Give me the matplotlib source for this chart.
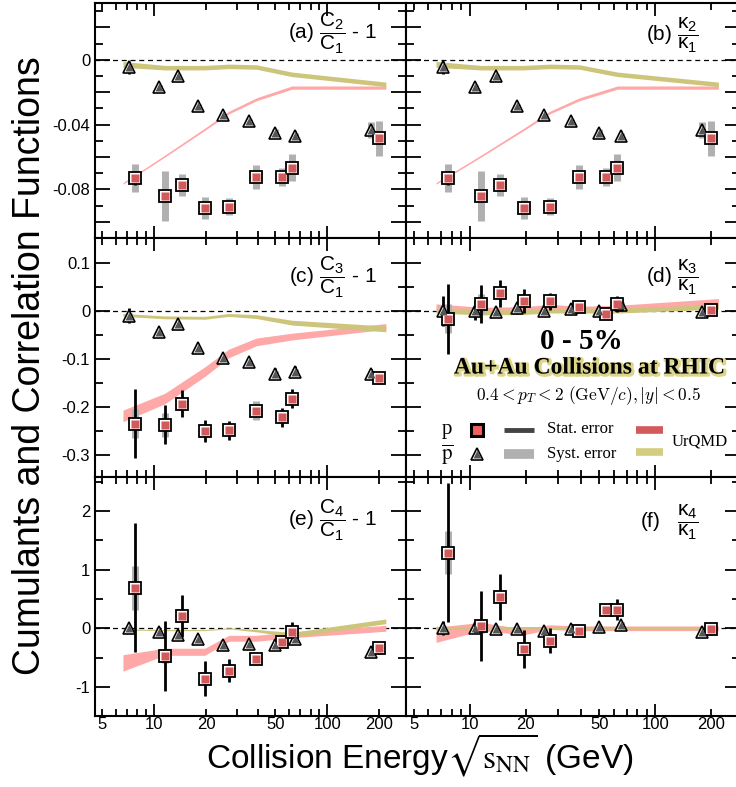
import matplotlib
matplotlib.use('Agg')
import matplotlib.pyplot as plt
import matplotlib.patheffects as pe
from matplotlib.ticker import FixedLocator, FuncFormatter, MultipleLocator
import numpy as np

plt.rcParams['font.family'] = ['Liberation Sans', 'DejaVu Sans']
plt.rcParams['mathtext.fontset'] = 'custom'
plt.rcParams['mathtext.rm'] = 'Liberation Sans'
plt.rcParams['mathtext.it'] = 'Liberation Sans'
plt.rcParams['mathtext.bf'] = 'Liberation Sans:bold'

######## data ########
e_p = [7.7, 11.5, 14.5, 19.6, 27, 39, 54.4, 62.4, 200]
e_pbar = [7.2, 10.7, 13.8, 18.0, 25, 35.2, 50, 65, 178]
e_model = [6.6, 11.5, 19.6, 27, 39, 62.4, 218]

# (a)/(b)  C2/C1 - 1 , k2/k1
p_a = [-0.073, -0.0843, -0.0773, -0.0915, -0.0906, -0.0722, -0.0726, -0.0665, -0.0486]
p_a_stat = [0.004, 0.002, 0.002, 0.002, 0.002, 0.002, 0.002, 0.002, 0.003]
p_a_sys = [0.0085, 0.0155, 0.007, 0.0065, 0.005, 0.0075, 0.0055, 0.0085, 0.0105]
pbar_a = [-0.0045, -0.0166, -0.0098, -0.0285, -0.0343, -0.0377, -0.045, -0.047, -0.0435]
pbar_a_stat = [0.004, 0.001, 0.001, 0.001, 0.001, 0.001, 0.002, 0.003, 0.003]
pbar_a_sys = [0.002, 0.001, 0.001, 0.001, 0.001, 0.001, 0.002, 0.002, 0.005]
red_a = [-0.0763, -0.0595, -0.0429, -0.0326, -0.0244, -0.0172, -0.0172]
red_a_w = [0.0005, 0.0006, 0.0007, 0.0008, 0.0009, 0.001, 0.001]
yel_a = [-0.0029, -0.0049, -0.0049, -0.0041, -0.0045, -0.009, -0.0152]
yel_a_w = [0.0018, 0.0014, 0.0014, 0.0014, 0.0014, 0.0014, 0.0014]

# (c) C3/C1 - 1
p_c = [-0.235, -0.237, -0.194, -0.251, -0.249, -0.208, -0.222, -0.183, -0.141]
p_c_stat = [0.071, 0.040, 0.028, 0.023, 0.020, 0.010, 0.020, 0.020, 0.010]
p_c_sys = [0.03, 0.025, 0.012, 0.012, 0.01, 0.02, 0.012, 0.01, 0.012]
pbar_c = [-0.0104, -0.044, -0.028, -0.078, -0.099, -0.106, -0.131, -0.127, -0.131]
pbar_c_stat = [0.015, 0.008, 0.004, 0.004, 0.003, 0.003, 0.012, 0.012, 0.01]
pbar_c_sys = [0.005, 0.004, 0.003, 0.003, 0.003, 0.003, 0.006, 0.006, 0.006]
red_c = [-0.219, -0.183, -0.127, -0.089, -0.065, -0.054, -0.033]
red_c_w = [0.012, 0.011, 0.010, 0.009, 0.008, 0.007, 0.006]
yel_c = [-0.009, -0.014, -0.015, -0.009, -0.0125, -0.025, -0.038]
yel_c_w = [0.003, 0.003, 0.003, 0.003, 0.004, 0.005, 0.006]

# (d) k3/k1
p_d = [-0.017, 0.014, 0.036, 0.020, 0.019, 0.007, -0.008, 0.014, 0.001]
p_d_stat = [0.073, 0.040, 0.028, 0.025, 0.017, 0.008, 0.008, 0.016, 0.010]
p_d_sys = [0.03, 0.02, 0.01, 0.01, 0.008, 0.01, 0.008, 0.008, 0.012]
pbar_d = [0.0, 0.0, -0.002, 0.005, -0.001, 0.004, -0.001, 0.012, -0.002]
pbar_d_stat = [0.031, 0.02, 0.01, 0.012, 0.008, 0.005, 0.006, 0.012, 0.008]
pbar_d_sys = [0.01, 0.008, 0.005, 0.005, 0.004, 0.004, 0.004, 0.006, 0.006]
red_d = [0.008, 0.002, 0.003, 0.008, 0.004, 0.006, 0.018]
red_d_w = [0.006, 0.005, 0.005, 0.005, 0.005, 0.005, 0.007]
yel_d = [0.0, -0.004, -0.003, 0.0, 0.0, 0.0, 0.008]
yel_d_w = [0.005, 0.005, 0.005, 0.005, 0.005, 0.005, 0.005]

# (e) C4/C1 - 1
p_e = [0.69, -0.47, 0.21, -0.86, -0.72, -0.52, -0.24, -0.06, -0.34]
p_e_stat = [1.10, 0.60, 0.35, 0.30, 0.20, 0.08, 0.08, 0.17, 0.10]
p_e_sys = [0.38, 0.12, 0.10, 0.06, 0.05, 0.05, 0.05, 0.05, 0.08]
pbar_e = [0.0, -0.07, -0.11, -0.18, -0.29, -0.27, -0.29, -0.18, -0.40]
pbar_e_stat = [0.03, 0.03, 0.03, 0.03, 0.03, 0.03, 0.06, 0.06, 0.06]
pbar_e_sys = [0.02, 0.02, 0.02, 0.02, 0.02, 0.02, 0.04, 0.04, 0.05]
red_e = [-0.59, -0.40, -0.40, -0.17, -0.17, -0.11, 0.0]
red_e_w = [0.14, 0.06, 0.06, 0.05, 0.05, 0.05, 0.05]
yel_e = [-0.02, -0.03, -0.03, 0.0, -0.04, -0.11, 0.12]
yel_e_w = [0.01, 0.01, 0.01, 0.01, 0.02, 0.04, 0.04]

# (f) k4/k1
p_f = [1.29, 0.04, 0.54, -0.35, -0.21, -0.05, 0.31, 0.32, -0.01]
p_f_stat = [1.19, 0.59, 0.39, 0.32, 0.21, 0.08, 0.07, 0.18, 0.10]
p_f_sys = [0.37, 0.12, 0.10, 0.06, 0.05, 0.05, 0.05, 0.05, 0.08]
pbar_f = [0.0, 0.01, -0.02, -0.01, -0.05, -0.01, 0.02, 0.06, -0.06]
pbar_f_stat = [0.12, 0.05, 0.03, 0.03, 0.03, 0.03, 0.03, 0.06, 0.06]
pbar_f_sys = [0.04, 0.03, 0.02, 0.02, 0.02, 0.02, 0.02, 0.04, 0.05]
red_f = [-0.11, 0.03, -0.06, 0.02, 0.0, 0.0, 0.0]
red_f_w = [0.13, 0.07, 0.05, 0.04, 0.04, 0.04, 0.04]
yel_f = [0.0, 0.0, 0.0, 0.0, 0.0, 0.0, 0.0]
yel_f_w = [0.03, 0.03, 0.03, 0.03, 0.03, 0.03, 0.03]

ylim_rows = [(-0.110, 0.035), (-0.346, 0.151), (-1.494, 2.578)]
ymajor_rows = [0.02, 0.1, 1.0]
yminor_rows = [0.01, 0.05, 0.5]
ylabels_rows = [[0, -0.04, -0.08], [0.1, 0, -0.1, -0.2, -0.3], [2, 1, 0, -1]]

RED = '#d25a5a'
BAND_RED = '#ffa8a8'
BAND_YEL = '#cdc57c'
SYS = '#b0b0b0'

######## layout in pixels ########
W, H = 736, 787
cols = [(95, 311), (406, 334)]
rows = [(3, 235), (238, 239), (477, 239)]

fig = plt.figure(figsize=(W / 100, H / 100), dpi=100)


def make_ax(r, c):
    x0, w = cols[c]
    y0, h = rows[r]
    return fig.add_axes([x0 / W, 1 - (y0 + h) / H, w / W, h / H])


def draw_points(ax, x, y, stat, sys, kind):
    x = np.array(x); y = np.array(y)
    stat = np.array(stat); sys = np.array(sys)
    ax.vlines(x, y - sys, y + sys, color=SYS, lw=5, zorder=3)
    ax.vlines(x, y - stat, y + stat, color='k', lw=2, zorder=4)
    if kind == 'p':
        ax.plot(x, y, 's', ms=8.5, mfc='white', mec='k', mew=1.3, zorder=5)
        ax.plot(x, y, 's', ms=5.5, mfc=RED, mec='none', zorder=6)
    else:
        ax.plot(x, y, '^', ms=9, mfc='white', mec='k', mew=1.2, zorder=5)
        ax.plot(x, y, '^', ms=5.5, mfc='#555555', mec='none', zorder=6)


def draw_band(ax, y, w, color, z):
    y = np.array(y); w = np.array(w)
    ax.fill_between(e_model, y - w, y + w, color=color, lw=0, zorder=z)


def fmt_y(labs):
    def f(v, p):
        for l in labs:
            if abs(v - l) < 1e-9:
                return '%g' % l
        return ''
    return FuncFormatter(f)


def style(ax, r, c):
    ax.set_xscale('log')
    ax.set_xlim(4.55, 285)
    ax.set_ylim(*ylim_rows[r])
    ax.xaxis.set_major_locator(FixedLocator([10, 100]))
    ax.xaxis.set_minor_locator(FixedLocator([5, 6, 7, 8, 9, 20, 30, 40, 50, 60, 70, 80, 90, 200]))
    ax.yaxis.set_major_locator(MultipleLocator(ymajor_rows[r]))
    ax.yaxis.set_minor_locator(MultipleLocator(yminor_rows[r]))
    ax.yaxis.set_major_formatter(fmt_y(ylabels_rows[r]))
    if r == 2:
        ax.xaxis.set_major_formatter(FuncFormatter(lambda v, p: '%g' % v))
        ax.xaxis.set_minor_formatter(FuncFormatter(
            lambda v, p: ('%g' % v) if round(v) in (5, 20, 50, 200) else ''))
    else:
        ax.xaxis.set_major_formatter(FuncFormatter(lambda v, p: ''))
        ax.xaxis.set_minor_formatter(FuncFormatter(lambda v, p: ''))
    ax.tick_params(axis='both', which='both', direction='in', top=True, right=True,
                   labelsize=12, width=1.3)
    ax.tick_params(axis='y', which='major', length=11)
    ax.tick_params(axis='y', which='minor', length=6)
    ax.tick_params(axis='x', which='major', length=9, pad=1)
    ax.tick_params(axis='x', which='minor', length=5, pad=1)
    if c == 1:
        ax.tick_params(axis='y', which='both', labelleft=False)
    for s in ax.spines.values():
        s.set_linewidth(1.5)
    ax.axhline(0, color='k', lw=0.9, ls=(0, (4, 3)), zorder=1)


panels = [
    (0, 0, p_a, p_a_stat, p_a_sys, pbar_a, pbar_a_stat, pbar_a_sys, red_a, red_a_w, yel_a, yel_a_w),
    (0, 1, p_a, p_a_stat, p_a_sys, pbar_a, pbar_a_stat, pbar_a_sys, red_a, red_a_w, yel_a, yel_a_w),
    (1, 0, p_c, p_c_stat, p_c_sys, pbar_c, pbar_c_stat, pbar_c_sys, red_c, red_c_w, yel_c, yel_c_w),
    (1, 1, p_d, p_d_stat, p_d_sys, pbar_d, pbar_d_stat, pbar_d_sys, red_d, red_d_w, yel_d, yel_d_w),
    (2, 0, p_e, p_e_stat, p_e_sys, pbar_e, pbar_e_stat, pbar_e_sys, red_e, red_e_w, yel_e, yel_e_w),
    (2, 1, p_f, p_f_stat, p_f_sys, pbar_f, pbar_f_stat, pbar_f_sys, red_f, red_f_w, yel_f, yel_f_w),
]

titles = [
    r'(a) $\dfrac{C_2}{C_1}$ - 1',
    r'(b) $\dfrac{\kappa_2}{\kappa_1}$',
    r'(c) $\dfrac{C_3}{C_1}$ - 1',
    r'(d) $\dfrac{\kappa_3}{\kappa_1}$',
    r'(e) $\dfrac{C_4}{C_1}$ - 1',
    r'(f)   $\dfrac{\kappa_4}{\kappa_1}$',
]
title_pos = [(0.905, 0.87), (0.875, 0.86), (0.905, 0.835), (0.875, 0.835), (0.905, 0.82), (0.875, 0.81)]

axes = {}
for i, (r, c, py, ps, pss, by, bs, bss, ry, rw, yy, yw) in enumerate(panels):
    ax = make_ax(r, c)
    axes[(r, c)] = ax
    style(ax, r, c)
    draw_band(ax, ry, rw, BAND_RED, 2)
    draw_band(ax, yy, yw, BAND_YEL, 2.1)
    draw_points(ax, e_pbar, by, bs, bss, 'pbar')
    draw_points(ax, e_p, py, ps, pss, 'p')
    ax.text(title_pos[i][0], title_pos[i][1], titles[i], transform=ax.transAxes,
            ha='right', va='center', fontsize=15, zorder=10)

######## text and legend in panel (d) ########
axd = axes[(1, 1)]
serif = ['Liberation Serif', 'DejaVu Serif']
axd.text(0.524, 0.565, '0 - 5%', transform=axd.transAxes, ha='center', va='center',
         fontsize=21, fontweight='bold', family=serif, zorder=10)
axd.text(0.55, 0.456, 'Au+Au Collisions at RHIC', transform=axd.transAxes, ha='center',
         va='center', fontsize=17, fontweight='bold', family=serif, zorder=10,
         path_effects=[pe.Stroke(linewidth=2.5, foreground='#ddd68a', offset=(1, -1)), pe.Normal()])
axd.text(0.545, 0.343, r'$0.4 < p_T < 2\ (\mathrm{GeV}/c), |y| < 0.5$', transform=axd.transAxes,
         ha='center', va='center', fontsize=12.5, math_fontfamily='cm', zorder=10)

axd.text(0.123, 0.197, 'p', transform=axd.transAxes, ha='center', va='center',
         fontsize=15, family=serif, zorder=10)
axd.text(0.123, 0.095, r'$\overline{\mathrm{p}}$', transform=axd.transAxes, ha='center',
         va='center', fontsize=15, math_fontfamily='stix', zorder=10)
axd.plot([0.214], [0.197], 's', ms=9, mfc='#f06060', mec='k', mew=2.2,
         transform=axd.transAxes, zorder=10, clip_on=False)
axd.plot([0.214], [0.095], '^', ms=9, mfc='white', mec='k', mew=1.2,
         transform=axd.transAxes, zorder=10)
axd.plot([0.214], [0.095], '^', ms=5.5, mfc='#555555', mec='none',
         transform=axd.transAxes, zorder=11)
axd.plot([0.292, 0.383], [0.197, 0.197], color='#444444', lw=3.5, transform=axd.transAxes,
         zorder=10, solid_capstyle='butt')
axd.plot([0.292, 0.383], [0.097, 0.097], color='#b0b0b0', lw=7, transform=axd.transAxes,
         zorder=10, solid_capstyle='butt')
axd.text(0.422, 0.2, 'Stat. error', transform=axd.transAxes, ha='left', va='center',
         fontsize=12, family=serif, zorder=10)
axd.text(0.422, 0.095, 'Syst. error', transform=axd.transAxes, ha='left', va='center',
         fontsize=12, family=serif, zorder=10)
axd.plot([0.69, 0.768], [0.195, 0.195], color='#d25a5a', lw=5.5, transform=axd.transAxes,
         zorder=10, solid_capstyle='butt')
axd.plot([0.69, 0.768], [0.104, 0.104], color='#d4cd80', lw=5.5, transform=axd.transAxes,
         zorder=10, solid_capstyle='butt')
axd.text(0.795, 0.15, 'UrQMD', transform=axd.transAxes, ha='left', va='center',
         fontsize=12, family=serif, zorder=10)

######## axis titles ########
fig.text(0.041, 0.536, 'Cumulants and Correlation Functions', rotation=90, ha='center',
         va='center', fontsize=27)
fig.text(0.57, 0.04, r'Collision Energy$\sqrt{\mathrm{s}_{\mathrm{NN}}}$ (GeV)', ha='center',
         va='center', fontsize=24, math_fontfamily='stix')

plt.savefig('out.png', dpi=100)
